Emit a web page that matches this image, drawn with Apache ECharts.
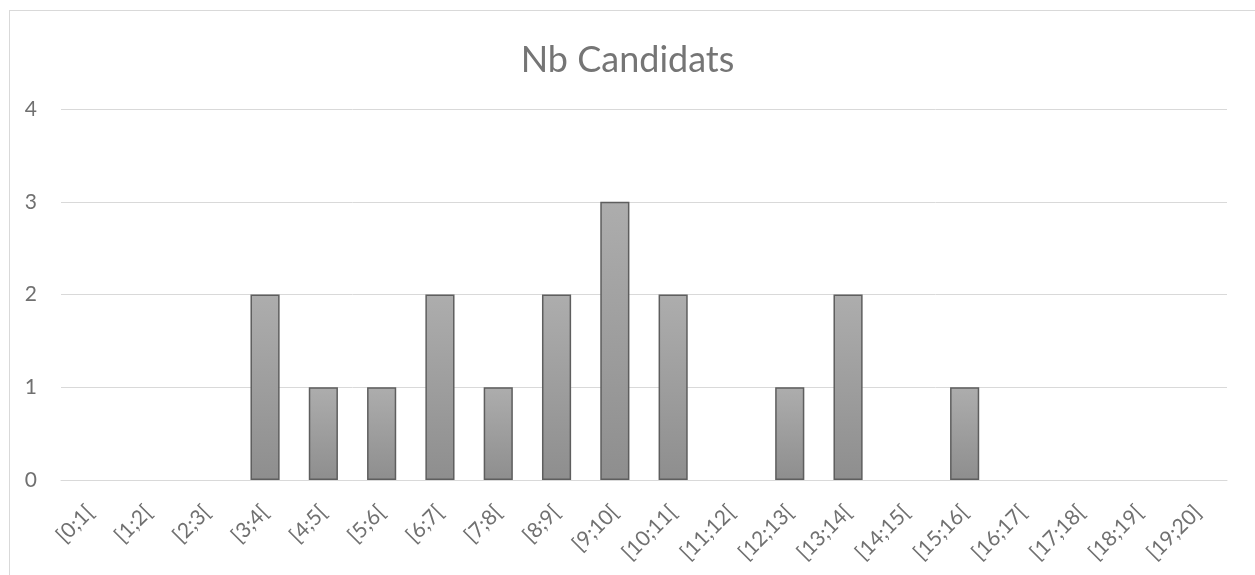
<!DOCTYPE html>
<html>
<head>
<meta charset="utf-8">
<script src="https://cdn.jsdelivr.net/npm/echarts@6/dist/echarts.min.js"></script>
<style>
html,body{margin:0;padding:0;background:#fff;}
#frame{position:absolute;left:9px;top:10px;width:1260px;height:600px;border:1px solid #d9d9d9;box-sizing:border-box;}
#chart{position:absolute;left:0;top:0;width:1255px;height:575px;}
</style>
</head>
<body>
<div id="frame"></div>
<div id="chart"></div>
<script>
const categories = ['[0;1[','[1;2[','[2;3[','[3;4[','[4;5[','[5;6[','[6;7[','[7;8[','[8;9[','[9;10[','[10;11[','[11;12[','[12;13[','[13;14[','[14;15[','[15;16[','[16;17[','[17;18[','[18;19[','[19;20]'];
const values = [0,0,0,2,1,1,2,1,2,3,2,0,1,2,0,1,0,0,0,0];
const yTicks = [0,1,2,3,4];
const titleText = 'Nb Candidats';

const font = 'Lato, "Open Sans", "Liberation Sans", sans-serif';
const chart = echarts.init(document.getElementById('chart'), null, {renderer:'canvas'});
chart.setOption({
  animation:false,
  title:{text:titleText,left:'center',top:37,textStyle:{fontFamily:font,fontSize:36,fontWeight:'normal',color:'#757575'}},
  grid:{left:61,right:28,top:109,bottom:95,containLabel:false},
  xAxis:{type:'category',data:categories,
    axisLine:{show:true,lineStyle:{color:'#d9d9d9',width:1}},
    axisTick:{show:false},
    axisLabel:{rotate:45,interval:0,fontFamily:font,fontSize:21,color:'#707070',margin:29}},
  yAxis:{type:'value',min:yTicks[0],max:yTicks[yTicks.length-1],interval:1,
    axisLine:{show:false},axisTick:{show:false},
    axisLabel:{fontFamily:font,fontSize:21,color:'#707070',margin:24},
    splitLine:{lineStyle:{color:'#d9d9d9',width:1}}},
  series:[{type:'bar',data:values.map(v => v === 0 ? '-' : v),barWidth:'50%',
    itemStyle:{
      color:new echarts.graphic.LinearGradient(0,0,0,1,[{offset:0,color:'#adadad'},{offset:1,color:'#8e8e8e'}]),
      borderColor:'#5e5e5e',borderWidth:1.5}}]
});
</script>
</body>
</html>
